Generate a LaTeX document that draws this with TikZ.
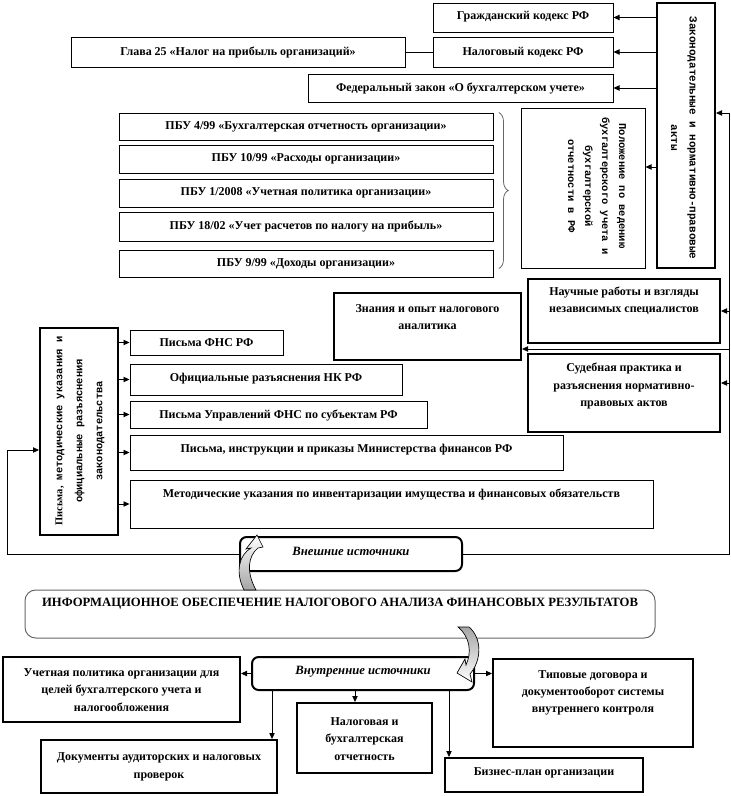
\documentclass[tikz,border=0pt]{standalone}
\usepackage{fontspec}
\setmainfont{Liberation Serif}
\newfontfamily\monof{Liberation Mono}
\usetikzlibrary{arrows.meta,decorations.pathreplacing}
\tikzset{
  box/.style={draw, line width=0.75pt, inner sep=0pt},
  tbox/.style={draw, line width=1.5pt, inner sep=0pt},
  rbox/.style={draw, line width=1.5pt, rounded corners=5pt, inner sep=0pt},
  gbox/.style={draw=black!60, line width=0.75pt, rounded corners=8pt, inner sep=0pt},
  txt/.style={font=\bfseries\fontsize{9}{13}\selectfont, align=center, inner sep=0pt},
  rot/.style={font=\monof\bfseries\fontsize{8.2}{14}\selectfont, align=center, inner sep=0pt},
  arr/.style={line width=0.6pt, -{Triangle[length=4.5pt,width=4pt]}},
  ln/.style={line width=0.6pt},
  curv/.style={draw=black, line width=0.5pt, top color=white, bottom color=black!35},
  curvb/.style={draw=black, line width=0.5pt, top color=black!35, bottom color=white},
}
\newcommand\bx[6]{%
  \node[#1, minimum width={(#5-#3)*0.75pt}, minimum height={(#6-#4)*0.75pt}] (#2) at ({(#3+#5)/2},{(#4+#6)/2}) {};}
\newcommand\pbox[8]{%
  \bx{#1}{#2}{#3}{#4}{#5}{#6}%
  \node[txt] (#2t) at ({(#3+#5)/2},#7) {#8};}
\begin{document}
\begin{tikzpicture}[x=0.75pt,y=-0.75pt]
\useasboundingbox (0,0) rectangle (731,796);

% top block
\pbox{box}{grk}{433}{3}{613}{32}{17}{Гражданский кодекс РФ}
\pbox{box}{nk}{433}{37}{613}{67}{52}{Налоговый кодекс РФ}
\pbox{box}{gl}{71}{37}{405}{67}{52}{Глава 25 «Налог на прибыль организаций»}
\pbox{box}{fz}{308}{74}{613}{102}{88}{Федеральный закон «О бухгалтерском учете»}
\bx{tbox}{zak}{657}{3}{715}{268}
\node[rot, rotate=-90] (zakt) at (684,138) {Законодательные и нормативно-правовые\\акты};
\bx{box}{pol}{521}{108}{645}{268}
\node[rot, rotate=-90, font=\monof\bfseries\fontsize{7.8}{12.75}\selectfont] (polt) at (597,186)
  {Положение по ведению\\бухгалтерского учета и\\бухгалтерской\\отчетности в РФ};

\pbox{box}{pb1}{119}{113}{493}{140}{127}{ПБУ 4/99 «Бухгалтерская отчетность организации»}
\pbox{box}{pb2}{119}{145}{493}{173}{159}{ПБУ 10/99 «Расходы организации»}
\pbox{box}{pb3}{119}{179}{493}{207}{193}{ПБУ 1/2008 «Учетная политика организации»}
\pbox{box}{pb4}{119}{212}{493}{241}{226}{ПБУ 18/02 «Учет расчетов по налогу на прибыль»}
\pbox{box}{pb5}{119}{250}{493}{277}{264}{ПБУ 9/99 «Доходы организации»}
\draw[black!60, line width=0.6pt, decorate, decoration={brace, amplitude=7pt}]
  ([xshift=4pt]pb1.north east) -- ([xshift=4pt]pb1.east |- pol.south);

\draw[ln] (gl.east) -- (nk.west);
\draw[arr] (zak.west |- grk.east) -- (grk.east);
\draw[arr] (zak.west |- nk.east) -- (nk.east);
\draw[arr] (zak.west |- fz.east) -- (fz.east);
\draw[arr] (zak.west |- 0,167) -- (pol.east |- 0,167);

% right side
\pbox{tbox}{nau}{528}{279}{720}{343}{301}{Научные работы и взгляды\\независимых специалистов}
\pbox{tbox}{sud}{528}{354}{720}{432}{386}{Судебная практика и\\разъяснения нормативно-\\правовых актов}
\pbox{tbox}{zn}{334}{293}{521}{360}{317}{Знания и опыт налогового\\аналитика}

% left block
\bx{tbox}{pis}{40}{328}{118}{535}
\node[rot, rotate=90, font=\monof\bfseries\fontsize{7.8}{15}\selectfont] (pist) at (80,431)
  {{\rmfamily Письма,} методические указания и\\официальные разъяснения\\законодательства};
\pbox{box}{p1}{130}{330}{283}{355}{343}{Письма ФНС РФ}
\pbox{box}{p2}{130}{364}{402}{395}{379}{Официальные разъяснения НК РФ}
\pbox{box}{p3}{130}{401}{427}{428}{415}{Письма Управлений ФНС по субъектам РФ}
\pbox{box}{p4}{130}{435}{563}{470}{450}{Письма, инструкции и приказы Министерства финансов РФ}
\pbox{box}{p5}{130}{480}{653}{528}{494}{Методические указания по инвентаризации имущества и финансовых обязательств}
\foreach \p in {p1,p2,p3,p4,p5} \draw[arr] (pis.east |- \p.west) -- (\p.west);

% central
\pbox{rbox}{vsh}{240}{537}{462}{571}{551}{\itshape\fontsize{9.5}{11}\selectfont Внешние источники}
\pbox{gbox}{inf}{25}{590}{655}{638}{604}{\fontsize{9.5}{11}\selectfont ИНФОРМАЦИОННОЕ ОБЕСПЕЧЕНИЕ НАЛОГОВОГО АНАЛИЗА ФИНАНСОВЫХ РЕЗУЛЬТАТОВ}
\pbox{rbox}{vn}{252}{657}{474}{690}{672}{\itshape\fontsize{9.5}{11}\selectfont Внутренние источники}

% loops
\coordinate (r0) at (729,113);
\coordinate (l0) at (7,450);
\draw[arr] (vsh.east) -- (vsh.east -| r0) -- (r0) -- (zak.east |- r0);
\draw[arr] (nau.east -| r0) -- (nau.east);
\draw[arr] (729,383) -- (sud.east |- 0,383);
\draw[arr] (729,349) -- (zn.east |- 0,349);
\draw[arr] (vsh.west) -- (vsh.west -| l0) -- (l0) -- (pis.west |- l0);

% curved arrows
\path[curv] (244,590) .. controls (235,572) and (239,555) .. (251,548) -- (246,549) -- (257,535)
  -- (263,547) -- (258,548) .. controls (248,556) and (246,572) .. (256,590) -- cycle;
\path[curvb] (458,627) -- (469,627) .. controls (482,638) and (482,660) .. (470,674) -- (472,682)
  -- (457,673) -- (465,659) -- (466,665) .. controls (472,652) and (470,637) .. (458,627) -- cycle;

% bottom
\pbox{tbox}{uch}{3}{657}{240}{722}{690}{Учетная политика организации для\\целей бухгалтерского учета и\\налогообложения}
\pbox{tbox}{dok}{41}{740}{277}{793}{767}{Документы аудиторских и налоговых\\проверок}
\pbox{tbox}{nal}{297}{703}{432}{773}{739}{Налоговая и\\бухгалтерская\\отчетность}
\pbox{tbox}{tip}{493}{659}{693}{747}{693}{Типовые договора и\\документооборот системы\\внутреннего контроля}
\pbox{tbox}{biz}{445}{758}{643}{792}{773}{Бизнес-план организации}

\draw[arr] (vn.west) -- (uch.east |- vn.west);
\draw[arr] (vn.east) -- (tip.west |- vn.east);
\draw[arr] (272,0 |- vn.south) -- (272,0 |- dok.north);
\draw[arr] (355,0 |- vn.south) -- (355,0 |- nal.north);
\draw[arr] (449,0 |- vn.south) -- (449,0 |- biz.north);
\end{tikzpicture}
\end{document}
